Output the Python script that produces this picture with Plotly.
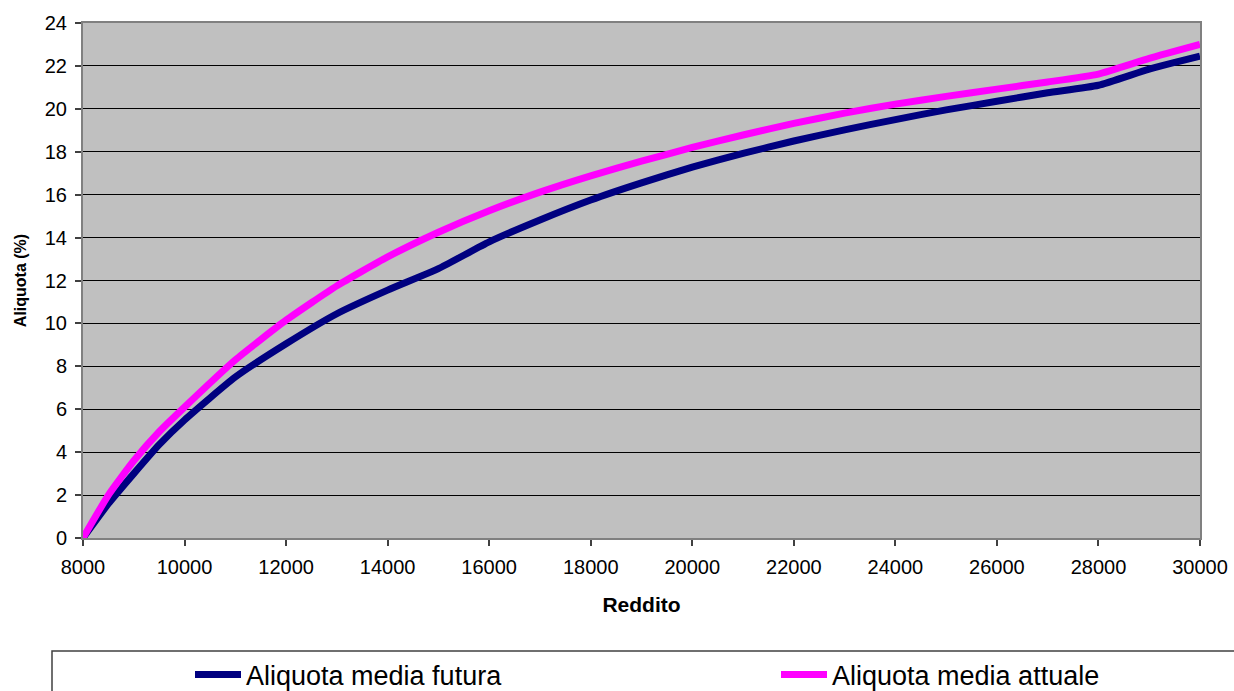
import plotly.graph_objects as go

reddito = [8000, 8500, 9000, 9500, 10000, 11000, 12000, 13000, 14000, 15000,
           16000, 17000, 18000, 19000, 20000, 21000, 22000, 23000, 24000,
           25000, 26000, 27000, 28000, 29000, 30000]

aliquota_futura = [0, 1.6, 3.0, 4.35, 5.5, 7.5, 9.05, 10.45, 11.55, 12.55,
                   13.8, 14.82, 15.75, 16.55, 17.28, 17.92, 18.5, 19.02, 19.5,
                   19.95, 20.35, 20.75, 21.1, 21.85, 22.45]

aliquota_attuale = [0, 2.0, 3.6, 4.95, 6.1, 8.3, 10.15, 11.75, 13.1, 14.25,
                    15.25, 16.12, 16.88, 17.56, 18.2, 18.78, 19.32, 19.8, 20.22,
                    20.58, 20.92, 21.25, 21.62, 22.35, 23.0]

x_ticks = list(range(8000, 30001, 2000))
y_ticks = list(range(0, 25, 2))

W, H = 1234, 691
L, R, T, B = 83, 34, 23, 153
pw = W - L - R
ph = H - T - B

def px_x(p):
    return (p - L) / pw

def px_y(p):
    return (H - B - p) / ph

fig = go.Figure()
fig.add_trace(go.Scatter(x=reddito, y=aliquota_futura, mode="lines",
                         name="Aliquota media futura", legend="legend",
                         line=dict(color="#000080", width=7, shape="spline", smoothing=0.5)))
fig.add_trace(go.Scatter(x=reddito, y=aliquota_attuale, mode="lines",
                         name="Aliquota media attuale", legend="legend2",
                         line=dict(color="#FF00FF", width=7, shape="spline", smoothing=0.5)))

fig.add_shape(type="rect", xref="paper", yref="paper",
              x0=px_x(52), x1=px_x(1250), y0=px_y(651), y1=px_y(720),
              line=dict(color="#404040", width=1.5), fillcolor="rgba(0,0,0,0)",
              layer="above")

leg_common = dict(orientation="h", xanchor="left", y=px_y(675), yanchor="middle",
                  font=dict(size=27, family="Liberation Sans, Arial, sans-serif"),
                  itemwidth=46, bgcolor="rgba(0,0,0,0)")

fig.update_layout(
    width=W, height=H,
    margin=dict(l=L, r=R, t=T, b=B, pad=0, autoexpand=False),
    paper_bgcolor="white",
    plot_bgcolor="#C0C0C0",
    font=dict(family="Liberation Sans, Arial, sans-serif", color="black", size=20),
    showlegend=True,
    legend=dict(x=px_x(190), **leg_common),
    legend2=dict(x=px_x(776), **leg_common),
    xaxis=dict(range=[8000, 30000], tickvals=x_ticks,
               ticktext=[str(v) for v in x_ticks],
               ticks="outside", ticklen=6, tickwidth=1.5, tickcolor="#404040",
               ticklabelstandoff=4,
               showline=True, linecolor="#808080", linewidth=2, mirror=True,
               showgrid=False, zeroline=False, automargin=False,
               tickfont=dict(size=20),
               title=dict(text="<b>Reddito</b>", font=dict(size=21), standoff=20)),
    yaxis=dict(range=[0, 24], tickvals=y_ticks,
               ticks="outside", ticklen=6, tickwidth=1.5, tickcolor="#404040",
               ticklabelstandoff=4,
               showline=True, linecolor="#808080", linewidth=2, mirror=True,
               showgrid=True, gridcolor="black", gridwidth=1, zeroline=False,
               automargin=False,
               tickfont=dict(size=20),
               title=dict(text="<b>Aliquota (%)</b>", font=dict(size=16), standoff=14)),
)

fig.write_html("out.html", config={"displayModeBar": False},
               post_script="document.body.style.margin='0';document.body.style.overflow='hidden';")
